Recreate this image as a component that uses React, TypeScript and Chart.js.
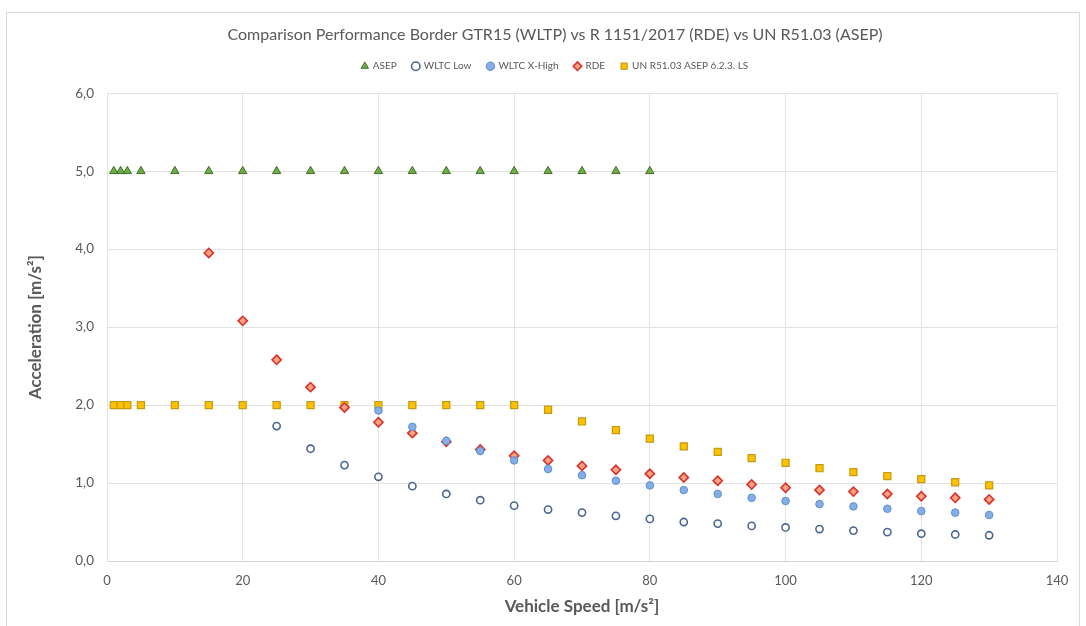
import React, { useEffect, useRef } from "react";
import { Chart, registerables } from "chart.js";

Chart.register(...registerables);

const titleText = "Comparison Performance Border GTR15 (WLTP) vs R 1151/2017 (RDE) vs UN R51.03 (ASEP)";
const xTitle = "Vehicle Speed [m/s²]";
const yTitle = "Acceleration [m/s²]";

const asepX = [1, 2, 3, 5, 10, 15, 20, 25, 30, 35, 40, 45, 50, 55, 60, 65, 70, 75, 80];
const asepY = [5, 5, 5, 5, 5, 5, 5, 5, 5, 5, 5, 5, 5, 5, 5, 5, 5, 5, 5];

const wltcLowX = [25, 30, 35, 40, 45, 50, 55, 60, 65, 70, 75, 80, 85, 90, 95, 100, 105, 110, 115, 120, 125, 130];
const wltcLowY = [1.73, 1.44, 1.23, 1.08, 0.96, 0.86, 0.78, 0.71, 0.66, 0.62, 0.58, 0.54, 0.5, 0.48, 0.45, 0.43, 0.41, 0.39, 0.37, 0.35, 0.34, 0.33];

const wltcXHighX = [40, 45, 50, 55, 60, 65, 70, 75, 80, 85, 90, 95, 100, 105, 110, 115, 120, 125, 130];
const wltcXHighY = [1.93, 1.72, 1.54, 1.41, 1.29, 1.18, 1.1, 1.03, 0.97, 0.91, 0.86, 0.81, 0.77, 0.73, 0.7, 0.67, 0.64, 0.62, 0.59];

const rdeX = [15, 20, 25, 30, 35, 40, 45, 50, 55, 60, 65, 70, 75, 80, 85, 90, 95, 100, 105, 110, 115, 120, 125, 130];
const rdeY = [3.95, 3.08, 2.58, 2.23, 1.97, 1.78, 1.64, 1.53, 1.43, 1.35, 1.29, 1.22, 1.17, 1.12, 1.07, 1.03, 0.98, 0.94, 0.91, 0.89, 0.86, 0.83, 0.81, 0.79];

const unX = [1, 2, 3, 5, 10, 15, 20, 25, 30, 35, 40, 45, 50, 55, 60, 65, 70, 75, 80, 85, 90, 95, 100, 105, 110, 115, 120, 125, 130];
const unY = [2, 2, 2, 2, 2, 2, 2, 2, 2, 2, 2, 2, 2, 2, 2, 1.94, 1.79, 1.68, 1.57, 1.47, 1.4, 1.32, 1.26, 1.19, 1.14, 1.09, 1.05, 1.01, 0.97];

const xTicks = [0, 20, 40, 60, 80, 100, 120, 140];
const yTicks = [0, 1, 2, 3, 4, 5, 6];

const toPts = (xs: number[], ys: number[]) => xs.map((x, i) => ({ x, y: ys[i] }));

const FONT = "Lato, 'Open Sans', sans-serif";
const GREY = "#595959";

export default function App() {
  const ref = useRef<HTMLCanvasElement | null>(null);

  useEffect(() => {
    if (!ref.current) return;
    const chart = new Chart(ref.current, {
      type: "scatter",
      data: {
        datasets: [
          {
            label: "ASEP",
            data: toPts(asepX, asepY),
            pointStyle: "triangle",
            pointRadius: 4.8,
            backgroundColor: "#70ad47",
            borderColor: "#3f6f26",
            borderWidth: 1,
          },
          {
            label: "WLTC Low",
            data: toPts(wltcLowX, wltcLowY),
            pointStyle: "circle",
            pointRadius: 3.6,
            backgroundColor: "#ffffff",
            borderColor: "#4a6690",
            borderWidth: 1.6,
          },
          {
            label: "WLTC X-High",
            data: toPts(wltcXHighX, wltcXHighY),
            pointStyle: "circle",
            pointRadius: 3.8,
            backgroundColor: "#86aee6",
            borderColor: "#5b8fd0",
            borderWidth: 1,
          },
          {
            label: "RDE",
            data: toPts(rdeX, rdeY),
            pointStyle: "rectRot",
            pointRadius: 4.6,
            backgroundColor: "#f6a283",
            borderColor: "#d9302a",
            borderWidth: 1.6,
          },
          {
            label: "UN R51.03 ASEP 6.2.3. LS",
            data: toPts(unX, unY),
            pointStyle: "rect",
            pointRadius: 5,
            backgroundColor: "#ffc000",
            borderColor: "#c39a10",
            borderWidth: 1.2,
          },
        ],
      },
      options: {
        animation: false,
        responsive: false,
        maintainAspectRatio: false,
        layout: { padding: { left: 24, right: 0, top: 0, bottom: 0 } },
        plugins: {
          title: {
            display: true,
            text: titleText,
            color: GREY,
            font: { family: FONT, size: 16, weight: "normal" },
            padding: { top: 25, bottom: 1 },
          },
          subtitle: {
            display: true,
            text: "",
            weight: 500,
            font: { family: FONT, size: 10 },
            padding: 0,
          } as any,
          legend: {
            display: true,
            labels: {
              usePointStyle: true,
              boxWidth: 6,
              boxHeight: 6,
              padding: 16,
              color: GREY,
              font: { family: FONT, size: 10 },
            },
          },
          tooltip: { enabled: false },
        },
        scales: {
          x: {
            type: "linear",
            min: 0,
            max: 140,
            afterBuildTicks: (scale: any) => {
              scale.ticks = xTicks.map((v) => ({ value: v }));
            },
            afterFit: (scale: any) => {
              scale.height = 65;
            },
            ticks: {
              color: GREY,
              font: { family: FONT, size: 13 },
              padding: 12,
              maxRotation: 0,
            },
            grid: { color: "#e2e2e2", drawTicks: false },
            border: { color: "#d4d4d4" },
            title: {
              display: true,
              text: xTitle,
              color: GREY,
              font: { family: FONT, size: 17, weight: "bold" },
              padding: { top: 0, bottom: 9 },
            },
          },
          y: {
            type: "linear",
            min: 0,
            max: 6,
            afterBuildTicks: (scale: any) => {
              scale.ticks = yTicks.map((v) => ({ value: v }));
            },
            afterFit: (scale: any) => {
              scale.width = 83;
            },
            ticks: {
              color: GREY,
              font: { family: FONT, size: 13.5 },
              padding: 13,
              callback: (v: any) => Number(v).toFixed(1).replace(".", ","),
            },
            grid: { color: "#e2e2e2", drawTicks: false },
            border: { color: "#e2e2e2" },
            title: {
              display: true,
              text: yTitle,
              color: GREY,
              font: { family: FONT, size: 17, weight: "bold" },
              padding: { top: 1, bottom: 0 },
            },
          },
          yRight: {
            type: "linear",
            position: "right",
            display: true,
            min: 0,
            max: 6,
            afterFit: (scale: any) => {
              scale.width = 29;
            },
            ticks: { display: false },
            grid: { display: false, drawTicks: false },
            border: { display: false },
          },
        },
      },
    });
    return () => chart.destroy();
  }, []);

  return (
    <div style={{ position: "absolute", left: 0, top: 0, width: 1086, height: 626, background: "#ffffff", overflow: "hidden" }}>
      <div
        style={{
          position: "absolute",
          left: 6,
          top: 12,
          width: 1074,
          height: 640,
          border: "1px solid #d9d9d9",
          boxSizing: "border-box",
        }}
      />
      <canvas ref={ref} width={1086} height={626} style={{ position: "absolute", left: 0, top: 0 }} />
    </div>
  );
}
